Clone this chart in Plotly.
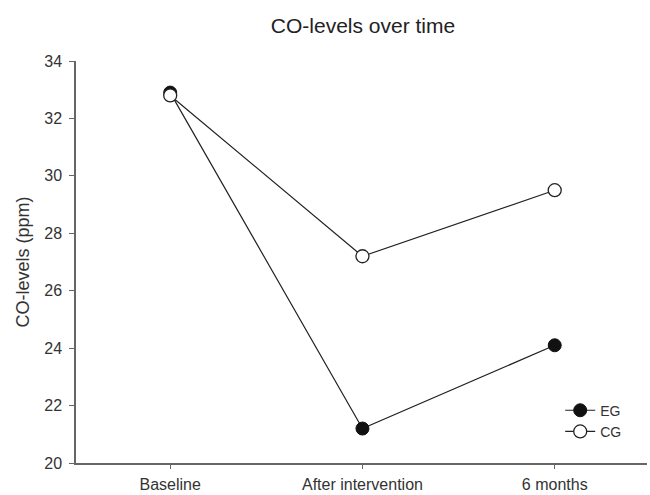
import plotly.graph_objects as go

categories = ["Baseline", "After intervention", "6 months"]
eg_values = [32.9, 21.2, 24.1]
cg_values = [32.8, 27.2, 29.5]
y_ticks = [20, 22, 24, 26, 28, 30, 32, 34]

x_idx = list(range(len(categories)))

fig = go.Figure()
fig.add_trace(go.Scatter(
    x=x_idx, y=eg_values, name="EG", mode="lines+markers",
    line=dict(color="#222222", width=1.2),
    marker=dict(size=13, color="#111111", line=dict(color="#111111", width=1)),
))
fig.add_trace(go.Scatter(
    x=x_idx, y=cg_values, name="CG", mode="lines+markers",
    line=dict(color="#222222", width=1.2),
    marker=dict(size=13, color="white", line=dict(color="#222222", width=1.3)),
))

font_family = "Liberation Sans, Arial, sans-serif"
fig.update_layout(
    width=650, height=495,
    margin=dict(l=76, r=3, t=61, b=32),
    paper_bgcolor="white", plot_bgcolor="white",
    font=dict(family=font_family, size=16, color="#333333"),
    title=dict(text="CO-levels over time", x=0.5585, xanchor="center",
               y=0.949, yanchor="middle", font=dict(size=21, color="#222222")),
    showlegend=True,
    legend=dict(x=0.848, y=0.17, xanchor="left", yanchor="top",
                bgcolor="rgba(0,0,0,0)", font=dict(size=14, color="#333333"),
                itemwidth=30, tracegroupgap=0),
    xaxis=dict(
        range=[-0.49, 2.48], tickmode="array", tickvals=x_idx, ticktext=categories,
        showgrid=False, zeroline=False, showline=True, linecolor="#666666", linewidth=1.5,
        ticks="outside", ticklen=4, tickcolor="#666666", tickfont=dict(size=16),
        ticklabelstandoff=2, automargin=False,
    ),
    yaxis=dict(
        range=[20, 34], tickmode="array", tickvals=y_ticks,
        showgrid=False, zeroline=False, showline=True, linecolor="#666666", linewidth=1.5,
        ticks="outside", ticklen=5, tickcolor="#666666", tickfont=dict(size=16),
        ticklabelstandoff=4, automargin=False,
        title=dict(text="CO-levels (ppm)", font=dict(size=18), standoff=10),
    ),
)

fig.write_html("out.html")
